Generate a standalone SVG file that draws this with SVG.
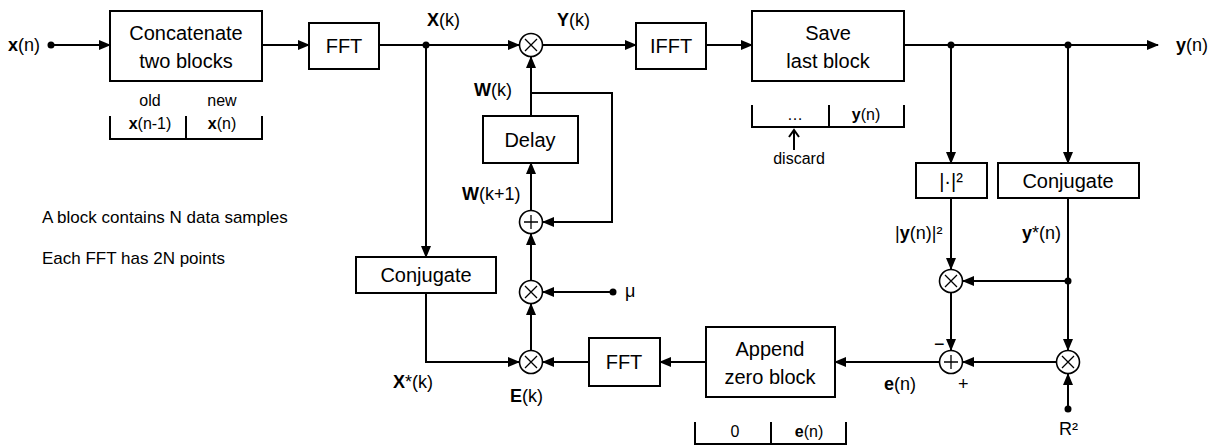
<svg xmlns="http://www.w3.org/2000/svg" width="1220" height="445" viewBox="0 0 1220 445">
<defs>
<marker id="ah" markerUnits="userSpaceOnUse" markerWidth="12" markerHeight="10" refX="11" refY="5" orient="auto"><path d="M0,0 L12,5 L0,10 Z" fill="#000"/></marker>
<g id="mul"><circle r="11.5" fill="#fff" stroke="#000" stroke-width="1.6"/><path d="M-6,-6 L6,6 M6,-6 L-6,6" stroke="#000" stroke-width="1.3"/></g>
<g id="add"><circle r="11.5" fill="#fff" stroke="#000" stroke-width="1.6"/><path d="M-7,0 L7,0 M0,-7 L0,7" stroke="#000" stroke-width="1.3"/></g>
</defs>
<style>
.box{fill:#fff;stroke:#000;stroke-width:2}
.w{fill:none;stroke:#000;stroke-width:2}
.a{fill:none;stroke:#000;stroke-width:2;marker-end:url(#ah)}
.bt{font-family:"Liberation Sans",Arial,sans-serif;font-size:20px;text-anchor:middle;fill:#000}
.lb{font-family:"Liberation Sans",Arial,sans-serif;font-size:18px;fill:#000}
.sm{font-family:"Liberation Sans",Arial,sans-serif;font-size:16px;fill:#000}
.nt{font-family:"Liberation Sans",Arial,sans-serif;font-size:17px;fill:#000}
.b{font-weight:bold}
</style>
<g id="connectors">
<circle cx="51" cy="45" r="3.5"/>
<line class="a" x1="51" y1="45" x2="110" y2="45"/>
<line class="a" x1="262" y1="45" x2="309" y2="45"/>
<line class="a" x1="379" y1="45" x2="519" y2="45"/>
<circle cx="426" cy="45" r="3.5"/>
<line class="a" x1="426" y1="45" x2="426" y2="257"/>
<line class="a" x1="543" y1="45" x2="636" y2="45"/>
<line class="a" x1="706" y1="45" x2="752" y2="45"/>
<line class="a" x1="904" y1="45" x2="1158" y2="45"/>
<circle cx="951" cy="45" r="3.5"/>
<circle cx="1068" cy="45" r="3.5"/>
<line class="a" x1="951" y1="45" x2="951" y2="163"/>
<line class="a" x1="1068" y1="45" x2="1068" y2="163"/>
<line class="a" x1="951" y1="198" x2="951" y2="269"/>
<line class="a" x1="1068" y1="281" x2="963" y2="281"/>
<circle cx="1068" cy="281" r="3.5"/>
<line class="a" x1="1068" y1="198" x2="1068" y2="350"/>
<line class="a" x1="951" y1="293" x2="951" y2="350"/>
<line class="a" x1="1056" y1="362" x2="963" y2="362"/>
<circle cx="1068" cy="409" r="3.5"/>
<line class="a" x1="1068" y1="409" x2="1068" y2="374"/>
<line class="a" x1="939" y1="362" x2="835" y2="362"/>
<line class="a" x1="706" y1="362" x2="660" y2="362"/>
<line class="a" x1="589" y1="362" x2="543" y2="362"/>
<polyline class="a" points="426,293 426,362 519,362"/>
<line class="a" x1="531" y1="350" x2="531" y2="304"/>
<circle cx="613" cy="292" r="3.5"/>
<line class="a" x1="613" y1="292" x2="543" y2="292"/>
<line class="a" x1="531" y1="280" x2="531" y2="234"/>
<line class="a" x1="531" y1="210" x2="531" y2="163"/>
<line class="a" x1="531" y1="116" x2="531" y2="57"/>
<polyline class="a" points="531,93 612,93 612,222 543,222"/>
<line class="w" x1="794" y1="150" x2="794" y2="131"/>
<path d="M789,137 L794,130 L799,137" class="w" stroke-width="1.5"/>
</g>
<g id="concat">
<rect class="box" x="110" y="11" width="152" height="70"/>
<text class="bt" x="186" y="40">Concatenate</text>
<text class="bt" x="186" y="68">two blocks</text>
<polyline class="w" points="110,116 110,139 262,139 262,116"/>
<line class="w" x1="186" y1="116" x2="186" y2="139"/>
<text class="sm" x="150" y="106" text-anchor="middle">old</text>
<text class="sm" x="222" y="106" text-anchor="middle">new</text>
<text class="sm" x="150" y="129" text-anchor="middle"><tspan class="b">x</tspan>(n-1)</text>
<text class="sm" x="222" y="129" text-anchor="middle"><tspan class="b">x</tspan>(n)</text>
</g>
<g id="fft1"><rect class="box" x="309" y="23" width="70" height="46"/><text class="bt" x="344" y="53">FFT</text></g>
<g id="ifft"><rect class="box" x="636" y="23" width="70" height="46"/><text class="bt" x="671" y="53">IFFT</text></g>
<g id="save">
<rect class="box" x="752" y="11" width="152" height="70"/>
<text class="bt" x="828" y="40">Save</text>
<text class="bt" x="828" y="68">last block</text>
<polyline class="w" points="752,105 752,127 904,127 904,105"/>
<line class="w" x1="829" y1="105" x2="829" y2="127"/>
<text class="sm" x="795" y="120" text-anchor="middle">…</text>
<text class="sm" x="866" y="120" text-anchor="middle"><tspan class="b">y</tspan>(n)</text>
<text class="sm" x="799" y="164" text-anchor="middle">discard</text>
</g>
<g id="mulY"><use href="#mul" x="531" y="45"/></g>
<g id="delay"><rect class="box" x="483" y="116" width="95" height="47"/><text class="bt" x="530" y="147">Delay</text></g>
<g id="addW"><use href="#add" x="531" y="222"/></g>
<g id="mulMu"><use href="#mul" x="531" y="292"/></g>
<g id="mulE"><use href="#mul" x="531" y="362"/></g>
<g id="conjL"><rect class="box" x="356" y="257" width="140" height="36"/><text class="bt" x="426" y="282">Conjugate</text></g>
<g id="fft2"><rect class="box" x="589" y="338" width="71" height="48"/><text class="bt" x="624" y="369">FFT</text></g>
<g id="append">
<rect class="box" x="706" y="327" width="129" height="70"/>
<text class="bt" x="770" y="356">Append</text>
<text class="bt" x="770" y="384">zero block</text>
<polyline class="w" points="695,422 695,444 846,444 846,422"/>
<line class="w" x1="771" y1="422" x2="771" y2="444"/>
<text class="sm" x="735" y="437" text-anchor="middle">0</text>
<text class="sm" x="809" y="437" text-anchor="middle"><tspan class="b">e</tspan>(n)</text>
</g>
<g id="abs"><rect class="box" x="916" y="163" width="71" height="35"/><text class="bt" x="951" y="188">|·|²</text></g>
<g id="conjR"><rect class="box" x="998" y="163" width="141" height="35"/><text class="bt" x="1068" y="188">Conjugate</text></g>
<g id="mulR1"><use href="#mul" x="951" y="281"/></g>
<g id="sumE"><use href="#add" x="951" y="362"/></g>
<g id="mulR2"><use href="#mul" x="1068" y="362"/></g>
<g id="labels">
<text class="lb" x="8" y="51"><tspan class="b">x</tspan>(n)</text>
<text class="lb" x="427" y="26"><tspan class="b">X</tspan>(k)</text>
<text class="lb" x="557" y="26"><tspan class="b">Y</tspan>(k)</text>
<text class="lb" x="1176" y="51"><tspan class="b">y</tspan>(n)</text>
<text class="lb" x="474" y="96"><tspan class="b">W</tspan>(k)</text>
<text class="lb" x="462" y="200"><tspan class="b">W</tspan>(k+1)</text>
<text class="lb" x="625" y="297">μ</text>
<text class="lb" x="393" y="388"><tspan class="b">X</tspan>*(k)</text>
<text class="lb" x="510" y="402"><tspan class="b">E</tspan>(k)</text>
<text class="lb" x="884" y="390"><tspan class="b">e</tspan>(n)</text>
<text class="lb" x="895" y="239">|<tspan class="b">y</tspan>(n)|²</text>
<text class="lb" x="1022" y="239"><tspan class="b">y</tspan>*(n)</text>
<text class="lb" x="1059" y="435">R²</text>
<text class="lb" x="934" y="350">−</text>
<text class="lb" x="958" y="390">+</text>
<text class="nt" x="42" y="223">A block contains N data samples</text>
<text class="nt" x="42" y="264">Each FFT has 2N points</text>
</g>
</svg>
